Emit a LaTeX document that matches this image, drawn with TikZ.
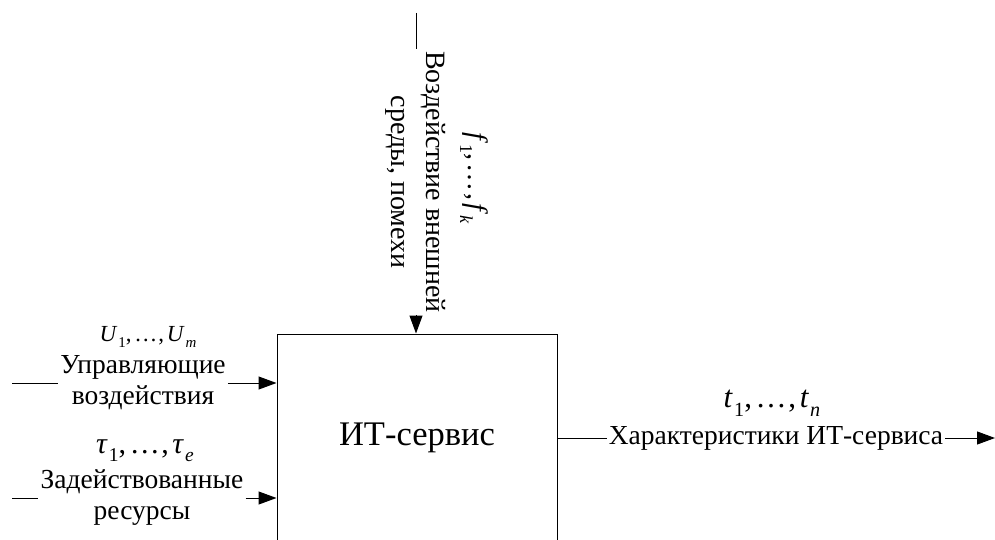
\documentclass[tikz,border=0pt]{standalone}
\usepackage{fontspec}
\setmainfont{Liberation Serif}
\usetikzlibrary{arrows.meta}
% italic variable with a lowered subscript
\newcommand{\sv}[2]{\textit{#1}\kern0.04em\raisebox{-0.28em}{\fontsize{0.65em}{0.7em}\selectfont #2}}
% list separator: comma, ellipsis, comma with a little room
\newcommand{\lsep}{,\kern0.12em\ldots\kern0.05em,\kern0.12em}
\begin{document}
\begin{tikzpicture}[x=1pt,y=1pt,
  wire/.style={line width=1pt},
  flow/.style={wire,-{Triangle[length=18pt,width=13pt]}},
  lbl/.style={fill=white,inner xsep=2pt,inner ysep=0pt,align=center,font=\fontsize{27.5}{31}\selectfont},
  var/.style={inner sep=0pt,font=\fontsize{28}{31}\selectfont}]
\useasboundingbox (0,0) rectangle (995,-540);
\clip (0,0) rectangle (995,-540);

% the service block
\node[draw,line width=1pt,minimum width=280,minimum height=208,
      font=\fontsize{34.5}{38}\selectfont] (svc) at (417,-438) {ИТ-сервис};

% environment influence (top)
\coordinate (ftop) at (416,-13);
\node[lbl,rotate=-90,font=\fontsize{28}{35}\selectfont] (env) at (416,-182)
  {Воздействие внешней\\среды, помехи};
\node[var,rotate=-90] (fvar) at (474,-178) {\sv{f}{1}\lsep\sv{f}{\textit{k}}};
\draw[wire] (ftop) -- (env);
\draw[flow] (env) -- (env |- svc.north);

% control inputs
\coordinate (uin) at (12,-383);
\node[lbl] (ctl) at (143,-383) {Управляющие\\воздействия};
\node[var,font=\fontsize{23}{26}\selectfont] (uvar) at (148,-337) {\sv{U}{1}\lsep\sv{U}{\textit{m}}};
\draw[wire] (uin) -- (ctl);
\draw[flow] (ctl) -- (ctl -| svc.west);

% resources used
\coordinate (rin) at (12,-498);
\node[lbl] (res) at (142,-498) {Задействованные\\ресурсы};
\node[var,font=\fontsize{30}{32}\selectfont] (tauvar) at (145,-451) {\sv{τ}{1}\lsep\sv{τ}{\textit{e}}};
\draw[wire] (rin) -- (res);
\draw[flow] (res) -- (res -| svc.west);

% output characteristics
\coordinate (tout) at (995,-438);
\node[lbl] (chr) at (776,-438) {Характеристики ИТ-сервиса};
\node[var,font=\fontsize{31}{34}\selectfont] (tvar) at (772,-403) {\sv{t}{1}\lsep\sv{t}{\textit{n}}};
\draw[wire] (svc.east |- chr) -- (chr);
\draw[flow] (chr) -- (tout);
\end{tikzpicture}
\end{document}
